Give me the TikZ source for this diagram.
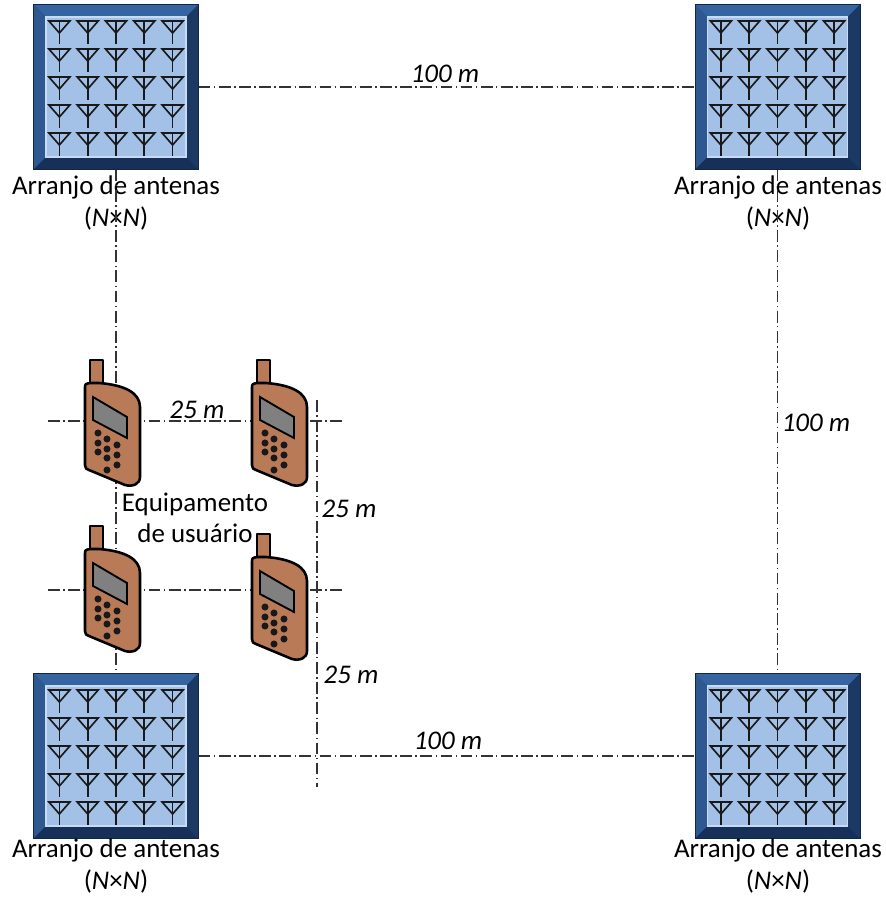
\documentclass[tikz,border=0pt]{standalone}
\usepackage{fontspec}
\setmainfont{Carlito}
\usetikzlibrary{positioning}
\definecolor{framebase}{HTML}{24487A}
\definecolor{frametop}{HTML}{3564A0}
\definecolor{frameleft}{HTML}{2D5890}
\definecolor{frameright}{HTML}{1C3963}
\definecolor{framebot}{HTML}{17305A}
\definecolor{panel}{HTML}{A3C1E6}
\definecolor{panelline}{HTML}{C9DBF1}
\definecolor{phonebody}{HTML}{B97A57}
\definecolor{phonescreen}{HTML}{808080}
\begin{document}
\begin{tikzpicture}[x=0.03cm, y=-0.03cm,
  dimline/.style={line width=1pt, black!80, dash pattern=on 10pt off 3pt on 1.2pt off 3pt},
  lbl/.style={align=center, font=\fontsize{23}{26.5}\selectfont},
  dist/.style={font=\fontsize{23}{26}\selectfont\itshape},
  arraybox/.style={minimum size=4.95cm, inner sep=0pt},
  antline/.style={line width=1.4pt, black!90, line join=miter},
  phoneline/.style={line width=2.2pt, black, line join=round},
  antarray/.pic={
    \fill[framebase] (-82.5,-82.5) rectangle (82.5,82.5);
    \fill[frametop] (-82.5,-82.5) -- (82.5,-82.5) -- (70,-70) -- (-70,-70) -- cycle;
    \fill[frameleft] (-82.5,-82.5) -- (-70,-70) -- (-70,70) -- (-82.5,82.5) -- cycle;
    \fill[frameright] (82.5,-82.5) -- (70,-70) -- (70,70) -- (82.5,82.5) -- cycle;
    \fill[framebot] (-82.5,82.5) -- (-70,70) -- (70,70) -- (82.5,82.5) -- cycle;
    \draw[framebot!80!black, line width=0.8pt] (-82.5,-82.5) rectangle (82.5,82.5);
    \draw[panelline, fill=panel, line width=1pt] (-70,-70) rectangle (70,70);
    \foreach \i in {-2,...,2}
      \foreach \y in {-66,-38,-10,18,46} {
        \draw[antline] (\i*28.3-10.5,\y) -- (\i*28.3+10.5,\y) -- (\i*28.3,\y+12) -- cycle;
        \draw[antline] (\i*28.3,\y) -- (\i*28.3,\y+23);
      }
    \node[arraybox] (-box) {};
  },
  phone/.pic={
    \draw[phoneline, fill=phonebody] (5,2) rectangle (18,-23);
    \draw[phoneline, fill=phonebody] (0,5) .. controls (0,1) .. (5,0) -- (14,0)
      .. controls (40,2) and (55,10) .. (55,24) -- (55,94)
      .. controls (55,101) and (48,104) .. (40,102) -- (4,87)
      .. controls (1,86) .. (0,82) -- cycle;
    \draw[line width=1.6pt, fill=phonescreen] (8,14) -- (42,34) -- (42,55) -- (8,37) -- cycle;
    \foreach \kx/\ky in {13/50,13/60,13/69,22/56,22/66,22/75,22/87,32/62,32/72,32/82}
      \fill[black!90] (\kx,\ky) circle (3pt);
  }]
\useasboundingbox (0,0) rectangle (885,897);

% antenna arrays
\pic (tl) at (116,87) {antarray};
\pic (tr) at (777.5,87) {antarray};
\pic (bl) at (116,756) {antarray};
\pic (br) at (777.5,756) {antarray};

\begin{scope}[every node/.style={lbl}]
\node (tl-lbl) at (116,203) {Arranjo de antenas\\(\textit{N}×\textit{N})};
\node (tr-lbl) at (778,203) {Arranjo de antenas\\(\textit{N}×\textit{N})};
\node (bl-lbl) at (116,866) {Arranjo de antenas\\(\textit{N}×\textit{N})};
\node (br-lbl) at (778,866) {Arranjo de antenas\\(\textit{N}×\textit{N})};
\end{scope}

% free ends of the user grid lines
\coordinate (h1w) at (48,421);
\coordinate (h1e) at (345,421);
\coordinate (h2w) at (48,590);
\coordinate (h2e) at (345,590);
\coordinate (vn) at (317,400);
\coordinate (vs) at (317,787);

\begin{scope}
\draw (tl-box) edge[dimline] (tr-box);
\draw (bl-box) edge[dimline] (br-box);
\draw (tl-box) edge[dimline] (bl-box);
\draw (tr-box) edge[dimline] (br-box);
\draw (h1w) edge[dimline] (h1e);
\draw (h2w) edge[dimline] (h2e);
\draw (vn) edge[dimline] (vs);
\end{scope}

% user equipment
\pic (ue1) at (85,383) {phone};
\pic (ue2) at (252,383) {phone};
\pic (ue3) at (85,549) {phone};
\pic (ue4) at (252,557) {phone};

\begin{scope}[every node/.style={dist}]
\node (d-top) at (445,74) {100 m};
\node (d-bot) at (448,741) {100 m};
\node (d-right) at (816,423) {100 m};
\node (d-ue) at (197,410) {25 m};
\node (d-v1) at (349,509) {25 m};
\node (d-v2) at (351,675) {25 m};
\end{scope}
\node[lbl, font=\fontsize{23}{27}\selectfont] (ue-lbl) at (195,518) {Equipamento\\de usuário};
\end{tikzpicture}
\end{document}
